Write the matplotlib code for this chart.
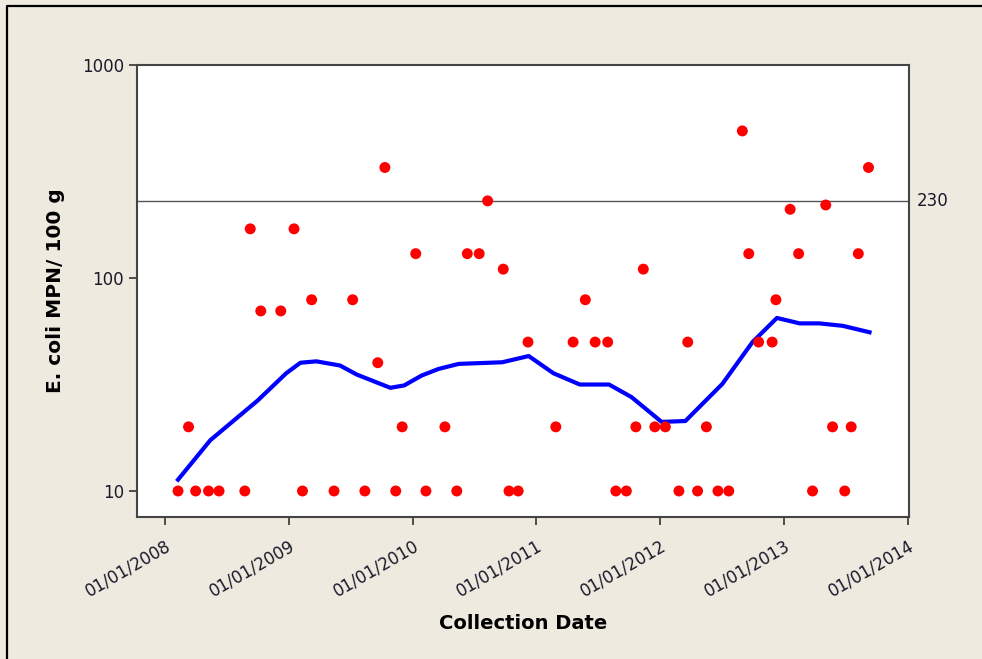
import pandas as pd
import numpy as np
import matplotlib
matplotlib.use("Agg")
import matplotlib.pyplot as plt
import matplotlib.dates as mdates
from matplotlib.lines import Line2D

# sample dates and E. coli MPN values
sample_dates = [
    "2008-02-09", "2008-03-11", "2008-04-01", "2008-05-09", "2008-06-09",
    "2008-08-24", "2008-09-09", "2008-10-10", "2008-12-08", "2009-01-16",
    "2009-02-10", "2009-03-09", "2009-05-14", "2009-07-08", "2009-08-13",
    "2009-09-20", "2009-10-11", "2009-11-12", "2009-12-01", "2010-01-10",
    "2010-02-09", "2010-04-06", "2010-05-11", "2010-06-11", "2010-07-16",
    "2010-08-10", "2010-09-25", "2010-10-12", "2010-11-08", "2010-12-07",
    "2011-02-27", "2011-04-19", "2011-05-25", "2011-06-23", "2011-07-30",
    "2011-08-23", "2011-09-23", "2011-10-21", "2011-11-12", "2011-12-16",
    "2012-01-16", "2012-02-25", "2012-03-22", "2012-04-20", "2012-05-16",
    "2012-06-19", "2012-07-21", "2012-08-30", "2012-09-18", "2012-10-17",
    "2012-11-26", "2012-12-07", "2013-01-18", "2013-02-12", "2013-03-25",
    "2013-05-03", "2013-05-23", "2013-06-28", "2013-07-17", "2013-08-07",
    "2013-09-06",
]
mpn_values = [
    10, 20, 10, 10, 10,
    10, 170, 70, 70, 170,
    10, 79, 10, 79, 10,
    40, 330, 10, 20, 130,
    10, 20, 10, 130, 130,
    230, 110, 10, 10, 50,
    20, 50, 79, 50, 50,
    10, 10, 20, 110, 20,
    20, 10, 50, 10, 20,
    10, 10, 490, 130, 50,
    50, 79, 210, 130, 10,
    220, 20, 10, 20, 130,
    330,
]

# smoothed trend (blue line)
smooth_dates = [
    "2008-02-09", "2008-05-14", "2008-10-01", "2008-12-24", "2009-02-04",
    "2009-03-23", "2009-06-01", "2009-07-20", "2009-10-27", "2009-12-07",
    "2010-01-27", "2010-03-18", "2010-05-17", "2010-09-22", "2010-12-09",
    "2011-02-20", "2011-05-09", "2011-08-03", "2011-10-08", "2012-01-05",
    "2012-03-15", "2012-07-02", "2012-09-29", "2012-12-10", "2013-02-15",
    "2013-04-14", "2013-06-22", "2013-09-09",
]
smooth_values = [
    11.3, 17.3, 26.6, 35.7, 40.0,
    40.6, 38.8, 35.2, 30.5, 31.3,
    34.8, 37.4, 39.5, 40.2, 43.0,
    35.7, 31.6, 31.6, 27.6, 21.1,
    21.3, 31.8, 50.0, 64.9, 61.2,
    61.2, 59.6, 55.6,
]

limit_value = 230

bg = "#EEEAE0"
plt.rcParams['font.family'] = ['DejaVu Sans']

fig = plt.figure(figsize=(9.82, 6.59), dpi=100, facecolor=bg)
# frame of the original window: only top and left edges are visible
fig.lines.append(Line2D([0.0075, 0.0075, 1.0], [0.0, 0.991, 0.991], transform=fig.transFigure,
                        color="black", linewidth=1.6))
ax = fig.add_axes([0.1395, 0.2155, 0.786, 0.686])
ax.set_facecolor("white")

x_pts = pd.to_datetime(sample_dates)
x_smooth = pd.to_datetime(smooth_dates)

ax.axhline(limit_value, color="#555555", linewidth=1.0, zorder=1)
ax.plot(x_smooth, smooth_values, color="#0000FF", linewidth=3.0, zorder=2)
ax.scatter(x_pts, mpn_values, s=62, color="#FF0000", edgecolors="none", zorder=3)

ax.set_yscale("log")
ax.set_ylim(7.55, 1000)
ax.set_yticks([10, 100, 1000])
ax.yaxis.set_minor_locator(matplotlib.ticker.NullLocator())
ax.set_yticklabels(["10", "100", "1000"])

ax.set_xlim(pd.Timestamp("2007-10-11"), pd.Timestamp("2014-01-03"))
ax.set_xticks(pd.to_datetime([f"{y}-01-01" for y in range(2008, 2015)]))
ax.xaxis.set_major_formatter(mdates.DateFormatter("%m/%d/%Y"))
plt.setp(ax.get_xticklabels(), rotation=30, ha="right", rotation_mode="anchor")

ax.tick_params(axis="both", direction="out", length=6, width=1.2, colors="#333333",
               labelsize=12, labelcolor="#1a1a2a")
ax.tick_params(axis="x", pad=8)
for sp in ax.spines.values():
    sp.set_color("#444444")
    sp.set_linewidth(1.5)

ax.text(1.01, limit_value, str(limit_value), transform=ax.get_yaxis_transform(),
        va="center", ha="left", fontsize=12, color="#1a1a2a")

ax.set_xlabel("Collection Date", fontsize=14, fontweight="bold", labelpad=10)
ax.set_ylabel("E. coli MPN/ 100 g", fontsize=14.5, fontweight="bold", labelpad=12)

fig.savefig("out.png", dpi=100, facecolor=bg)
